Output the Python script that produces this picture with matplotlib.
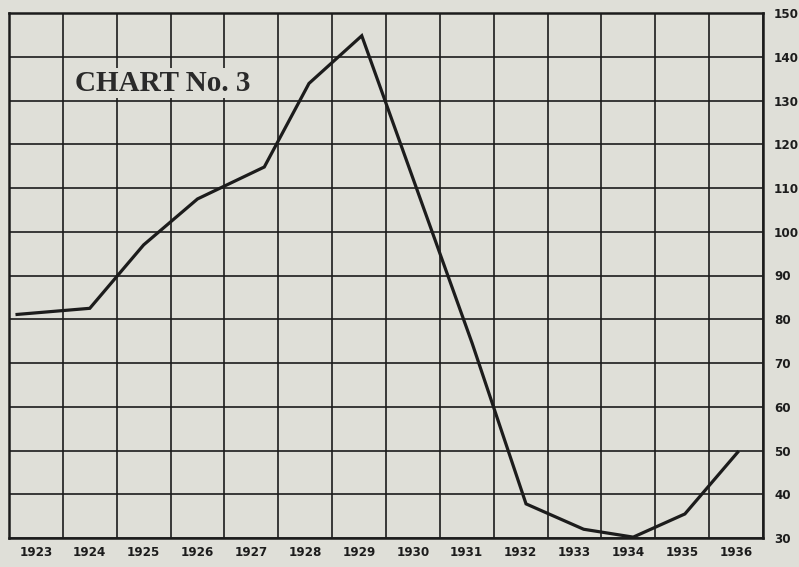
import matplotlib
matplotlib.use("Agg")
import matplotlib.pyplot as plt
import numpy as np

# data
years = [1923, 1924, 1925, 1926, 1927, 1928, 1929, 1930, 1931, 1932, 1933, 1934, 1935, 1936]
x_pos = [1922.65, 1924.0, 1925.0, 1926.0, 1927.24, 1928.07, 1929.05, 1930.05, 1931.1,
         1932.1, 1933.17, 1934.09, 1935.05, 1936.03]
values = [81.1, 82.5, 97.0, 107.5, 114.8, 133.9, 144.8, 110.5, 74.5, 37.8, 32.0, 30.2, 35.5, 49.6]
y_ticks = [30, 40, 50, 60, 70, 80, 90, 100, 110, 120, 130, 140, 150]
title = "CHART No. 3"

bg = "#dfdfd8"
ink = "#1c1c1c"
lab_font = ["DejaVu Sans"]

fig = plt.figure(figsize=(7.99, 5.67), dpi=100, facecolor=bg)
ax = fig.add_axes([9 / 799, 29 / 567, 754 / 799, 525 / 567])
ax.set_facecolor(bg)

ax.set_xlim(years[0] - 0.5, years[-1] + 0.5)
ax.set_ylim(y_ticks[0], y_ticks[-1])

# grid: one column per year, one row per 10 units
for x in np.arange(years[0] - 0.5, years[-1] + 0.6, 1.0):
    ax.axvline(x, color=ink, lw=1.2, zorder=1)
for y in y_ticks:
    ax.axhline(y, color=ink, lw=1.2, zorder=1)

for s in ax.spines.values():
    s.set_color(ink)
    s.set_linewidth(1.8)

ax.plot(x_pos, values, color=ink, lw=2.3, solid_joinstyle="miter", zorder=3)

ax.set_xticks(years)
ax.set_xticklabels([str(y) for y in years], family=lab_font, fontweight="bold",
                   fontstretch="condensed", fontsize=9.5, color=ink)
ax.yaxis.tick_right()
ax.set_yticks(y_ticks)
ax.set_yticklabels([str(v) for v in y_ticks], family=lab_font, fontweight="bold",
                   fontstretch="condensed", fontsize=9.5, color=ink)
ax.tick_params(axis="x", length=0, pad=6)
ax.tick_params(axis="y", length=0, pad=8)

ax.text(1923.73, 133.9, title, family=["Liberation Serif", "DejaVu Serif"], fontsize=21,
        fontweight="bold", color="#2a2a2a", ha="left", va="center", zorder=4,
        bbox=dict(facecolor=bg, edgecolor="none", pad=1.0))

fig.savefig("out.png", dpi=100, facecolor=bg)
